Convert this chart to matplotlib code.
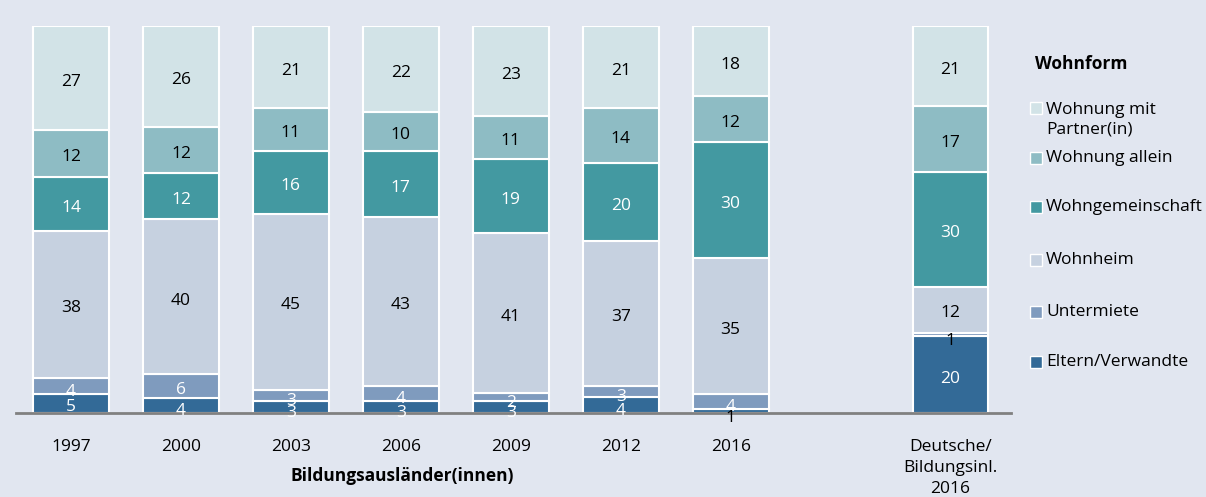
import numpy as np
import matplotlib.pyplot as plt
from matplotlib.patches import Rectangle

plt.rcParams['font.family'] = ['Open Sans', 'DejaVu Sans']

# Daten (Anteile in %)
groups = ['1997', '2000', '2003', '2006', '2009', '2012', '2016', 'Deutsche/\nBildungsinl.\n2016']
positions = [0, 1, 2, 3, 4, 5, 6, 8]
categories = ['Eltern/Verwandte', 'Untermiete', 'Wohnheim', 'Wohngemeinschaft',
              'Wohnung allein', 'Wohnung mit\nPartner(in)']
eltern = [5, 4, 3, 3, 3, 4, 1, 20]
untermiete = [4, 6, 3, 4, 2, 3, 4, 1]
wohnheim = [38, 40, 45, 43, 41, 37, 35, 12]
wg = [14, 12, 16, 17, 19, 20, 30, 30]
allein = [12, 12, 11, 10, 11, 14, 12, 17]
partner = [27, 26, 21, 22, 23, 21, 18, 21]

series = [eltern, untermiete, wohnheim, wg, allein, partner]
colors = ['#336a97', '#7f9bbe', '#c6d1e0', '#4399a1', '#8ebcc4', '#d2e3e7']
text_colors = ['white', 'white', 'black', 'white', 'black', 'black']
bg = '#e1e6f0'

data = np.array(series, dtype=float)
share = data / data.sum(axis=0) * 100

fig = plt.figure(figsize=(12.06, 4.97), dpi=100, facecolor=bg)
ax = fig.add_axes([0.0133, 0.169, 0.825, 0.779])
ax.set_facecolor(bg)

bottom = np.zeros(len(groups))
for i, (vals, sh) in enumerate(zip(data, share)):
    ax.bar(positions, sh, bottom=bottom, width=0.69, color=colors[i],
           edgecolor='white', linewidth=1.5)
    for x, v, b, h in zip(positions, vals, bottom, sh):
        y = b + h / 2 - (1.0 if v > 4 else 1.5)
        c = text_colors[i]
        if v <= 1:
            y = b - 1.3
            c = 'black'
        ax.text(x, y, f'{int(v)}', ha='center', va='center', fontsize=12.5, color=c)
    bottom += sh

ax.set_xlim(-0.5, 8.55)
ax.set_ylim(0, 100)
ax.set_yticks([])
ax.set_xticks(positions)
ax.set_xticklabels(groups, fontsize=12.5, linespacing=1.4, va='top')
ax.tick_params(axis='x', length=0, pad=19)
for s in ['top', 'right', 'left']:
    ax.spines[s].set_visible(False)
ax.spines['bottom'].set_color('#808080')
ax.spines['bottom'].set_linewidth(2)

fig.text(402 / 1206, 1 - 476 / 497, 'Bildungsausländer(innen)', ha='center', va='center',
         fontsize=12.5, fontweight='bold')

# Legende
fig.text(1035 / 1206, 1 - 64 / 497, 'Wohnform', ha='left', va='center',
         fontsize=12.5, fontweight='bold')
legend_y = [108, 158, 207, 260, 312, 362]
for lab, col, ly in zip(categories[::-1], colors[::-1], legend_y):
    fig.patches.append(Rectangle((1030 / 1206, 1 - (ly + 6) / 497), 12 / 1206, 12 / 497,
                                 transform=fig.transFigure, facecolor=col,
                                 edgecolor='white', linewidth=1))
    ty = ly + 11.5 if '\n' in lab else ly
    fig.text(1046 / 1206, 1 - ty / 497, lab, ha='left', va='center',
             fontsize=12.5, linespacing=1.3)

fig.savefig('out.png', dpi=100, facecolor=bg)
